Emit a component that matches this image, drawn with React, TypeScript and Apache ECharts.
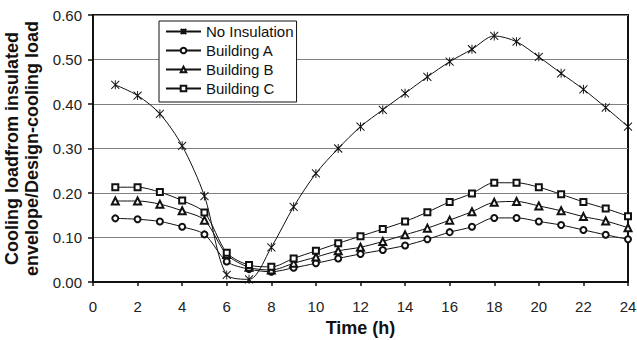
import React, { useEffect, useRef } from "react";
import * as echarts from "echarts";

const hours = [1, 2, 3, 4, 5, 6, 7, 8, 9, 10, 11, 12, 13, 14, 15, 16, 17, 18, 19, 20, 21, 22, 23, 24];
const noInsulation = [0.443, 0.419, 0.378, 0.306, 0.193, 0.016, 0.006, 0.078, 0.169, 0.244, 0.300, 0.349, 0.387, 0.424, 0.461, 0.495, 0.523, 0.553, 0.540, 0.506, 0.469, 0.433, 0.392, 0.349];
const buildingA = [0.143, 0.141, 0.136, 0.124, 0.107, 0.046, 0.029, 0.023, 0.032, 0.042, 0.053, 0.063, 0.072, 0.082, 0.096, 0.112, 0.124, 0.144, 0.144, 0.136, 0.128, 0.117, 0.106, 0.096];
const buildingB = [0.182, 0.182, 0.175, 0.160, 0.139, 0.062, 0.033, 0.027, 0.042, 0.056, 0.070, 0.078, 0.091, 0.106, 0.121, 0.139, 0.158, 0.179, 0.181, 0.171, 0.160, 0.147, 0.137, 0.122];
const buildingC = [0.213, 0.213, 0.202, 0.183, 0.156, 0.066, 0.038, 0.034, 0.053, 0.070, 0.087, 0.103, 0.119, 0.136, 0.157, 0.180, 0.199, 0.223, 0.223, 0.213, 0.197, 0.180, 0.165, 0.148];

const seriesNames = ["No Insulation", "Building A", "Building B", "Building C"];
const seriesData = [noInsulation, buildingA, buildingB, buildingC];

const starPath = "path://M-4,-4L4,4M-4,4L4,-4M0,-4.5L0,4.5";
const symbols = [starPath, "emptyCircle", "emptyTriangle", "emptyRect"];
const symbolSizes: any[] = [[8, 9], 6, 7, 6];

const FONT = "Arial, 'Liberation Sans', sans-serif";

export default function App() {
  const ref = useRef<HTMLDivElement>(null);
  useEffect(() => {
    if (!ref.current) return;
    const chart = echarts.init(ref.current, null, { renderer: "svg" });
    chart.setOption({
      animation: false,
      backgroundColor: "#fff",
      textStyle: { fontFamily: FONT },
      grid: {
        left: 93,
        top: 15,
        right: 9,
        bottom: 58,
        containLabel: false,
        outerBoundsMode: "none",
        show: true,
        borderColor: "#111",
        borderWidth: 2,
        backgroundColor: "transparent",
      },
      legend: {
        left: 159,
        top: 21,
        orient: "vertical",
        backgroundColor: "#fff",
        borderColor: "#111",
        borderWidth: 1,
        borderRadius: 0,
        padding: [3, 3, 6, 6],
        itemWidth: 35,
        itemHeight: 7,
        itemGap: 4,
        textStyle: { fontSize: 15, lineHeight: 14, color: "#111", fontFamily: FONT },
        data: seriesNames,
      },
      xAxis: {
        type: "value",
        min: 0,
        max: 24,
        interval: 2,
        name: "Time (h)",
        nameLocation: "middle",
        nameGap: 37,
        nameTextStyle: { fontSize: 18, lineHeight: 18, fontWeight: "bold", color: "#111", fontFamily: FONT },
        axisLine: { show: true, lineStyle: { color: "#111", width: 2 } },
        axisTick: { show: true, inside: false, length: 4, lineStyle: { color: "#111", width: 1.5 } },
        axisLabel: { fontSize: 15, color: "#222", margin: 17, fontFamily: FONT },
        splitLine: { show: false },
      },
      yAxis: {
        type: "value",
        min: 0,
        max: 0.6,
        interval: 0.1,
        name: "Cooling loadfrom insulated\nenvelope/Design-cooling load",
        nameLocation: "middle",
        nameGap: 46,
        nameTextStyle: { fontSize: 18, fontWeight: "bold", color: "#111", lineHeight: 20, fontFamily: FONT },
        axisLine: { show: true, lineStyle: { color: "#111", width: 2 } },
        axisTick: { show: true, inside: false, length: 5, lineStyle: { color: "#111", width: 1.5 } },
        axisLabel: {
          fontSize: 15,
          color: "#222",
          margin: 11,
          fontFamily: FONT,
          formatter: (v: number) => v.toFixed(2),
        },
        splitLine: { show: true, lineStyle: { color: "#808080", width: 1 } },
      },
      series: seriesNames.map((name, i) => ({
        name,
        type: "line",
        data: hours.map((h, j) => [h, seriesData[i][j]]),
        smooth: 0.3,
        symbol: symbols[i],
        symbolSize: symbolSizes[i],
        showAllSymbol: true,
        lineStyle: { color: "#111", width: 1 },
        itemStyle: { color: "#111", borderColor: "#111", borderWidth: 1 },
        z: 3,
      })),
    });
    return () => chart.dispose();
  }, []);
  return (
    <div
      ref={ref}
      style={{ position: "absolute", left: 0, top: 0, width: 637, height: 340 }}
    />
  );
}
